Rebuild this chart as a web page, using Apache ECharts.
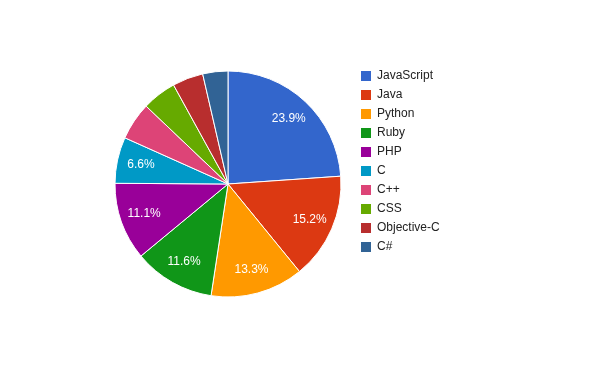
<!DOCTYPE html>
<html>
<head>
<meta charset="utf-8">
<script src="https://cdn.jsdelivr.net/npm/echarts@6/dist/echarts.min.js"></script>
<style>
html,body{margin:0;padding:0;background:#fff;}
#chart{width:596px;height:369px;}
</style>
</head>
<body>
<div id="chart"></div>
<script>
var categories = ['JavaScript','Java','Python','Ruby','PHP','C','C++','CSS','Objective-C','C#'];
var values = [23.9, 15.2, 13.3, 11.6, 11.1, 6.6, 5.4, 4.9, 4.4, 3.6];
var colors = ['#3366cc','#dc3912','#ff9900','#109618','#990099','#0099c6','#dd4477','#66aa00','#b82e2e','#316395'];

var data = categories.map(function(c, i){ return {name: c, value: values[i]}; });
var total = values.reduce(function(a,b){return a+b;},0);

var chart = echarts.init(document.getElementById('chart'), null, {renderer:'canvas'});
chart.setOption({
  animation: false,
  color: colors,
  legend: {
    orient: 'vertical',
    left: 354,
    top: 64,
    itemWidth: 12,
    itemHeight: 12,
    itemGap: 5,
    icon: 'rect',
    data: categories,
    textStyle: {fontFamily: 'Liberation Sans, Arial, sans-serif', fontSize: 12, color: '#222'}
  },
  series: [
    {
      type: 'pie',
      center: [228, 184],
      radius: [0, 113],
      startAngle: 90,
      clockwise: true,
      silent: true,
      data: data,
      label: {show: false},
      labelLine: {show: false},
      itemStyle: {borderColor: '#fff', borderWidth: 1}
    },
    {
      type: 'pie',
      center: [228, 184],
      radius: [0, 172],
      startAngle: 90,
      clockwise: true,
      silent: true,
      data: data,
      itemStyle: {color: 'rgba(0,0,0,0)', borderWidth: 0},
      labelLine: {show: false},
      label: {
        show: true,
        position: 'inside',
        color: '#fff',
        fontFamily: 'Liberation Sans, Arial, sans-serif',
        fontSize: 12,
        formatter: function(p){
          var pct = p.value / total * 100;
          return pct >= 6 ? pct.toFixed(1) + '%' : '';
        }
      }
    }
  ]
});
</script>
</body>
</html>
